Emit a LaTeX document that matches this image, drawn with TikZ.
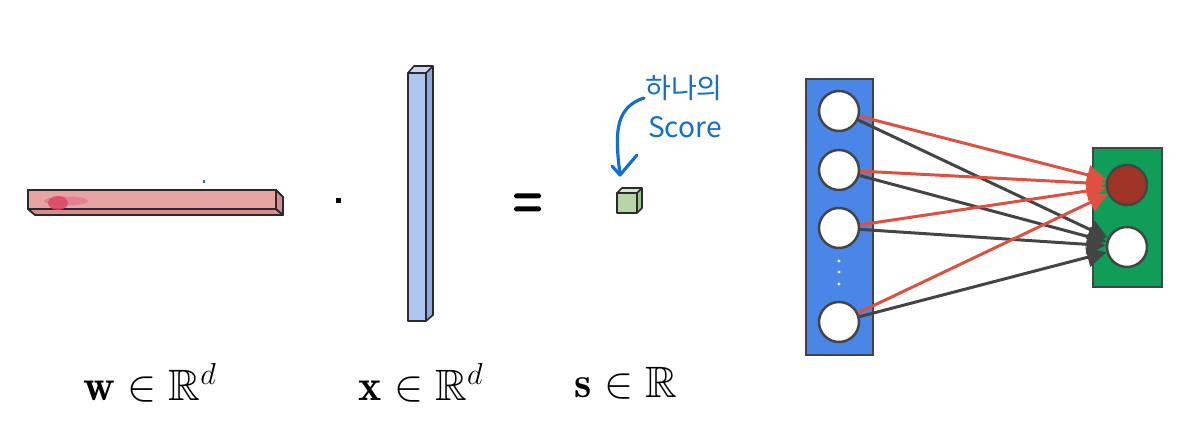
\documentclass[tikz,border=0pt]{standalone}
\usepackage{amsmath,amssymb}
\usepackage{fontspec}
\newfontfamily\krfont{Noto Sans CJK KR}
\usetikzlibrary{arrows.meta}
\definecolor{pinkF}{RGB}{232,163,163}
\definecolor{pinkS}{RGB}{215,140,140}
\definecolor{blueF}{RGB}{172,198,240}
\definecolor{blueS}{RGB}{140,170,222}
\definecolor{blueT}{RGB}{200,216,245}
\definecolor{greenF}{RGB}{182,214,168}
\definecolor{greenS}{RGB}{155,195,140}
\definecolor{greenT}{RGB}{210,232,198}
\definecolor{edgeC}{RGB}{45,40,45}
\definecolor{inBlue}{RGB}{74,134,232}
\definecolor{outGreen}{RGB}{15,157,88}
\definecolor{redL}{RGB}{222,80,64}
\definecolor{darkL}{RGB}{68,68,68}
\definecolor{redN}{RGB}{160,52,38}
\definecolor{penBlue}{RGB}{20,110,205}
\definecolor{smear}{RGB}{218,70,105}
\begin{document}
\begin{tikzpicture}[x=0.02cm,y=-0.02cm,
  face/.style={draw=edgeC,line width=0.9pt,line join=round},
  layerbox/.style={draw=darkL,line width=1.4pt},
  neuron/.style={circle,draw=darkL,line width=1.4pt,fill=white,minimum size=0.8cm,inner sep=0pt},
  redarrow/.style={redL,line width=1.7pt,-{Triangle[length=11pt,width=11pt]}},
  darkarrow/.style={darkL,line width=1.7pt,-{Triangle[length=11pt,width=11pt]}},
  mathlabel/.style={font=\fontsize{25}{30}\selectfont},
  pen/.style={penBlue,line width=1.8pt,line cap=round,line join=round}]
\useasboundingbox (0,0) rectangle (1200,432);
% ---- pink bar w ----
\fill[face,fill=pinkF] (28,190) rectangle (276,209);
\fill[face,fill=pinkS] (28,209) -- (276,209) -- (283,215) -- (35,215) -- cycle;
\fill[face,fill=pinkS] (276,190) -- (283,197) -- (283,215) -- (276,209) -- cycle;
\draw[face] (28,190) rectangle (276,209);
\draw[face] (28,209) -- (35,215) -- (283,215) -- (283,197) -- (276,190);
\draw[face] (276,209) -- (283,215);
\fill[smear,opacity=0.85] (58,203) ellipse (10 and 7);
\fill[smear,opacity=0.35] (66,201) ellipse (22 and 4.5);
\draw[penBlue,line width=0.8pt] (204,180) -- (204,183);
% ---- dot ----
\fill[black] (335.5,198.5) rectangle (340.5,203.5);
% ---- blue bar x ----
\fill[fill=blueF] (408,73) rectangle (426,321);
\fill[fill=blueT] (408,73) -- (414,66) -- (433,66) -- (426,73) -- cycle;
\fill[fill=blueS] (426,73) -- (433,66) -- (433,315) -- (426,321) -- cycle;
\draw[face] (408,73) rectangle (426,321);
\draw[face] (408,73) -- (414,66) -- (433,66) -- (426,73);
\draw[face] (433,66) -- (433,315) -- (426,321);
% ---- equals ----
\fill[black,rounded corners=1pt] (514,193.5) rectangle (541,198.5);
\fill[black,rounded corners=1pt] (514,206.5) rectangle (541,211.5);
% ---- green cube s ----
\fill[fill=greenF] (617,193) rectangle (637,213);
\fill[fill=greenT] (617,193) -- (622,188) -- (642,188) -- (637,193) -- cycle;
\fill[fill=greenS] (637,193) -- (642,188) -- (642,208) -- (637,213) -- cycle;
\draw[face] (617,193) rectangle (637,213);
\draw[face] (617,193) -- (622,188) -- (642,188) -- (637,193);
\draw[face] (642,188) -- (642,208) -- (637,213);
\coordinate (cubetop) at (620,175);
% ---- annotation ----
\node[penBlue,font=\krfont\fontsize{16}{18}\selectfont,inner sep=0pt] (hana) at (684,88) {하나의};
\node[penBlue,font=\krfont\fontsize{16}{18}\selectfont,inner sep=0pt] (score) at (685,127) {Score};
\draw[pen] (644,98) .. controls (612,108) and (616,140) .. (cubetop);
\draw[pen] (612,166) -- (cubetop) -- (637,155);
% ---- labels ----
\node[mathlabel] (lw) at (150,383) {$\mathbf{w}\in\mathbb{R}^d$};
\node[mathlabel] (lx) at (421,383) {$\mathbf{x}\in\mathbb{R}^d$};
\node[mathlabel] (ls) at (626,383) {$\mathbf{s}\in\mathbb{R}$};
% ---- network ----
\draw[layerbox,fill=inBlue] (806,79) rectangle (873,355);
\draw[layerbox,fill=outGreen] (1093,148) rectangle (1162,287);
\node[neuron] (i1) at (839,111) {};
\node[neuron] (i2) at (839,170) {};
\node[neuron] (i3) at (839,228) {};
\node[neuron] (i4) at (839,322) {};
\node[neuron,fill=redN] (o1) at (1127,185) {};
\node[neuron] (o2) at (1127,247) {};
\foreach \yy in {261,272,284} \fill[white] (839,\yy) circle (1.6);
\foreach \i in {1,2,3,4} {
  \draw[darkarrow] (i\i) -- (o2);
}
\foreach \i in {1,2,3,4} {
  \draw[redarrow] (i\i) -- (o1);
}
\end{tikzpicture}
\end{document}
